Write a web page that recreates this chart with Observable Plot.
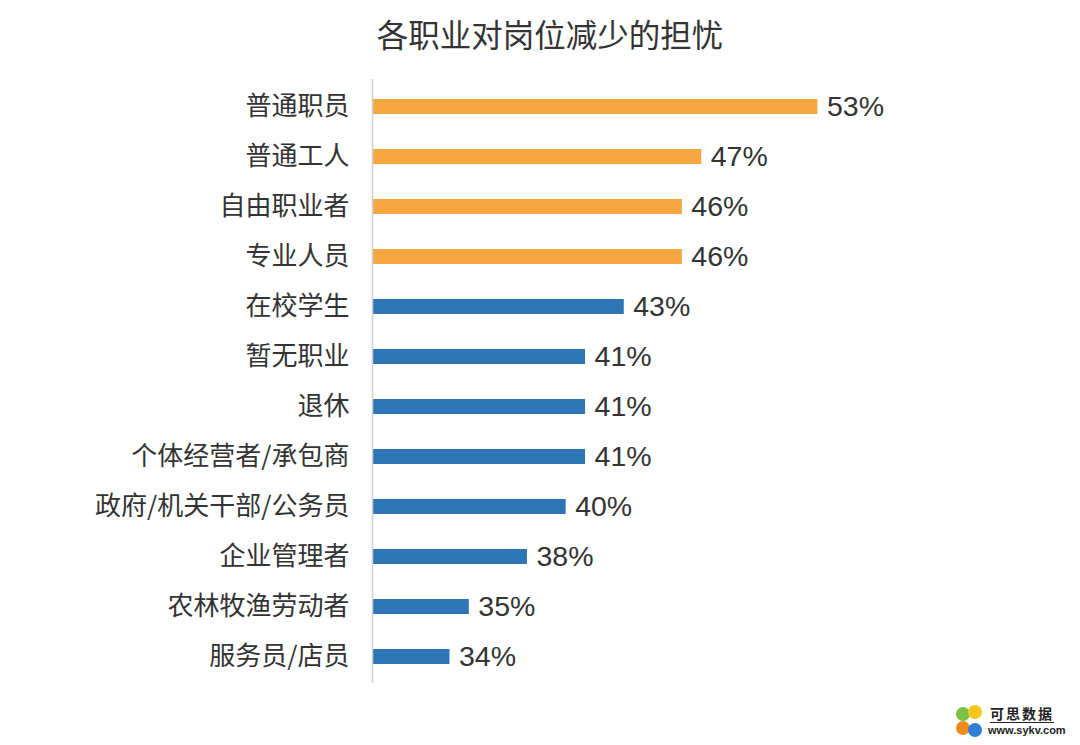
<!DOCTYPE html>
<html>
<head>
<meta charset="utf-8">
<script src="https://cdn.jsdelivr.net/npm/d3@7"></script>
<script src="https://cdn.jsdelivr.net/npm/@observablehq/plot@0.6"></script>
<style>
  html, body { margin: 0; padding: 0; background: #fff; }
  #wrap { position: relative; width: 1080px; height: 745px; overflow: hidden; }
  #title { height: 66px; line-height: 66px; text-align: center; padding-left: 20px; font-family: "Noto Sans CJK SC", sans-serif; font-size: 31.5px; color: #333; }
  #logo { position: absolute; right: 6px; bottom: 4px; width: 118px; height: 36px; font-family: "Noto Sans CJK SC", sans-serif; }
  .dot { position: absolute; border-radius: 50%; }
</style>
</head>
<body>
<div id="wrap">
  <div id="title">各职业对岗位减少的担忧</div>
  <div id="chart"></div>
  <div id="logo">
    <div class="dot" style="left:0;top:2px;width:14px;height:14px;background:#7cc242"></div>
    <div class="dot" style="left:12px;top:0;width:14px;height:14px;background:#f8c51c"></div>
    <div class="dot" style="left:0;top:16px;width:14px;height:14px;background:#f28b1f"></div>
    <div class="dot" style="left:12px;top:18px;width:14px;height:14px;background:#2f7fd6"></div>
    <div style="position:absolute;left:34px;top:0;font-size:14px;font-weight:bold;color:#222;letter-spacing:2px;border-bottom:1px solid #222;line-height:17px">可思数据</div>
    <div style="position:absolute;left:32px;top:19px;font-size:11px;font-weight:bold;color:#222;font-family:'Liberation Sans',sans-serif">www.sykv.com</div>
  </div>
</div>
<script>
const categories = ["普通职员","普通工人","自由职业者","专业人员","在校学生","暂无职业","退休","个体经营者/承包商","政府/机关干部/公务员","企业管理者","农林牧渔劳动者","服务员/店员"];
const values = [53, 47, 46, 46, 43, 41, 41, 41, 40, 38, 35, 34];
const groups = ["high","high","high","high","low","low","low","low","low","low","low","low"];
const xDomain = [30, 60];

const data = categories.map((c, i) => ({category: c, value: values[i], group: groups[i]}));

const chart = Plot.plot({
  width: 1080,
  height: 679,
  marginTop: 13,
  marginBottom: 62,
  marginLeft: 372,
  marginRight: 127,
  style: {fontFamily: "'Noto Sans CJK SC', sans-serif", color: "#333", background: "transparent"},
  x: {domain: xDomain, axis: null},
  y: {domain: categories, paddingInner: 0.7, paddingOuter: 0.35, label: null},
  color: {domain: ["high","low"], range: ["#F5A742","#2E75B6"]},
  marks: [
    Plot.axisY({tickSize: 0, tickPadding: 23, fontSize: 26, label: null}),
    Plot.barX(data, {y: "category", x1: () => xDomain[0], x2: "value", fill: "group"}),
    Plot.ruleX([xDomain[0]], {stroke: "#d0d0d0", strokeWidth: 1.5}),
    Plot.text(data, {y: "category", x: "value", text: d => d.value + "%", dx: 9, textAnchor: "start", fontSize: 28.5, fill: "#333", fontFamily: "'Liberation Sans', sans-serif"})
  ]
});
document.getElementById("chart").appendChild(chart);
</script>
</body>
</html>
